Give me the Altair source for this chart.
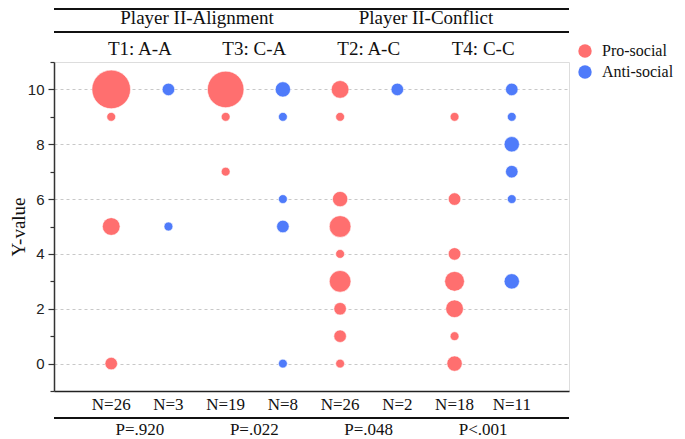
import altair as alt
import pandas as pd

W, H = 515, 329

headers = ["Player II-Alignment", "Player II-Conflict"]
groups = ["T1: A-A", "T3: C-A", "T2: A-C", "T4: C-C"]
types = ["Pro-social", "Anti-social"]
colors = ["#FF6F6F", "#4F7BFA"]
n_labels = ["N=26", "N=3", "N=19", "N=8", "N=26", "N=2", "N=18", "N=11"]
p_labels = ["P=.920", "P=.022", "P=.048", "P<.001"]

# bubble values (y) and counts (n) per column, left to right
t1_pro_y = [10, 9, 5, 0]
t1_pro_n = [19, 1, 4, 2]
t1_anti_y = [10, 5]
t1_anti_n = [2, 1]
t3_pro_y = [10, 9, 7]
t3_pro_n = [17, 1, 1]
t3_anti_y = [10, 9, 6, 5, 0]
t3_anti_n = [3, 1, 1, 2, 1]
t2_pro_y = [10, 9, 6, 5, 4, 3, 2, 1, 0]
t2_pro_n = [4, 1, 3, 6, 1, 6, 2, 2, 1]
t2_anti_y = [10]
t2_anti_n = [2]
t4_pro_y = [9, 6, 4, 3, 2, 1, 0]
t4_pro_n = [1, 2, 2, 5, 4, 1, 3]
t4_anti_y = [10, 9, 8, 7, 6, 3]
t4_anti_n = [2, 1, 3, 2, 1, 3]

columns = [
    (t1_pro_y, t1_pro_n), (t1_anti_y, t1_anti_n),
    (t3_pro_y, t3_pro_n), (t3_anti_y, t3_anti_n),
    (t2_pro_y, t2_pro_n), (t2_anti_y, t2_anti_n),
    (t4_pro_y, t4_pro_n), (t4_anti_y, t4_anti_n),
]

rows = []
for i, (ys, ns) in enumerate(columns):
    for y, n in zip(ys, ns):
        rows.append({"col": i, "type": types[i % 2], "y": y, "n": n})
df = pd.DataFrame(rows)

hdr_df = pd.DataFrame({"x": [1.5, 5.5], "label": headers})
grp_df = pd.DataFrame({"x": [0.5, 2.5, 4.5, 6.5], "label": groups})
n_df = pd.DataFrame({"x": list(range(len(n_labels))), "label": n_labels})
p_df = pd.DataFrame({"x": [0.5, 2.5, 4.5, 6.5], "label": p_labels})

xscale = alt.Scale(domain=[-1, 8], nice=False, zero=False)
yscale = alt.Scale(domain=[-1, 11], nice=False, zero=False)
SERIF = "Liberation Serif"

points = alt.Chart(df).mark_circle(opacity=1, stroke="white", strokeWidth=0.6).encode(
    x=alt.X("col:Q", scale=xscale,
            axis=alt.Axis(labels=False, ticks=False, grid=False, title=None,
                          domainColor="#222222", domainWidth=1.5)),
    y=alt.Y("y:Q", scale=yscale,
            axis=alt.Axis(values=list(range(-1, 12)),
                          labelExpr="datum.value % 2 === 0 ? datum.label : ''",
                          tickSize={"condition": {"test": "datum.value % 2 !== 0", "value": 4}, "value": 6},
                          gridOpacity={"condition": {"test": "datum.value % 2 !== 0", "value": 0}, "value": 1},
                          grid=True, gridDash=[3, 3], gridColor="#c8c8c8", gridWidth=1,
                          tickColor="#333333", tickWidth=1.2,
                          domainColor="#333333", domainWidth=1.5,
                          labelFont="Liberation Sans", labelFontSize=15, labelColor="#222222",
                          labelPadding=4,
                          title="Y-value", titleFont=SERIF, titleFontSize=19,
                          titleFontWeight="normal", titleColor="#111111",
                          titleX=-26, titleY=H / 2, titleBaseline="bottom")),
    color=alt.Color("type:N", scale=alt.Scale(domain=types, range=colors),
                    legend=alt.Legend(title=None, orient="none", legendX=523, legendY=-19,
                                      symbolType="circle", symbolSize=180, symbolStrokeWidth=0,
                                      symbolOpacity=1,
                                      labelFont=SERIF, labelFontSize=16, labelColor="#111111",
                                      rowPadding=5, labelOffset=9)),
    size=alt.Size("n:Q", scale=alt.Scale(domain=[0, 19], range=[0, 1492]), legend=None),
)

def text_layer(data, ypix, size):
    return alt.Chart(data).mark_text(font=SERIF, fontSize=size, color="#111111",
                                     baseline="middle", align="center").encode(
        x=alt.X("x:Q", scale=xscale), y=alt.value(ypix), text="label:N")

hdr = text_layer(hdr_df, -44, 19)
grp = text_layer(grp_df, -13, 19)
nlab = text_layer(n_df, H + 14, 17)
plab = text_layer(p_df, H + 39, 17)

def hrule(ypix):
    return alt.Chart(hdr_df).mark_rule(color="#111111", strokeWidth=2).encode(
        x=alt.value(0), x2=alt.value(W), y=alt.value(ypix))

r_top = hrule(-53)
r_mid = hrule(-30)
r_bot = hrule(H + 27)

chart = alt.layer(points, hdr, grp, nlab, plab, r_top, r_mid, r_bot).properties(
    width=W, height=H,
    padding={"left": 46, "top": 54, "right": 108, "bottom": 48},
    autosize=alt.AutoSizeParams(type="none"),
).configure_view(stroke=None).configure(background="white")

chart.save("out.html", embed_options={"renderer": "svg", "actions": False})
